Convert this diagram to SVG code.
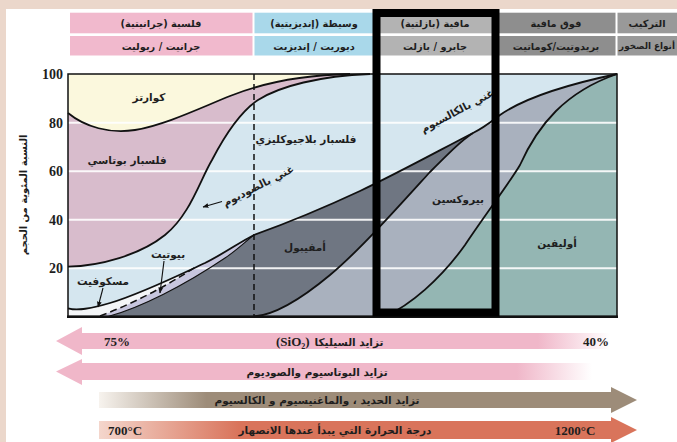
<svg xmlns="http://www.w3.org/2000/svg" width="677" height="442" viewBox="0 0 677 442">
<style>
.ar{font-family:"DejaVu Sans",sans-serif;font-weight:bold;fill:#1e1e1e;}
.hd{font-size:9.8px;}
.lb{font-size:10.5px;}
.num{font-family:"Liberation Serif",serif;font-weight:bold;fill:#1e1e1e;}
.cv{fill:none;stroke:#111;stroke-width:1.8;}
.grid{stroke:#ffffff;stroke-width:2;opacity:0.9;}
.lead{fill:none;stroke:#111;stroke-width:1.1;}
</style>
<defs>
<linearGradient id="gP1" gradientUnits="userSpaceOnUse" x1="56" y1="0" x2="610" y2="0">
<stop offset="0" stop-color="#f0b7c9"/><stop offset="0.87" stop-color="#f0b7c9"/><stop offset="1" stop-color="#ffffff"/>
</linearGradient>
<linearGradient id="gP2" gradientUnits="userSpaceOnUse" x1="56" y1="0" x2="592" y2="0">
<stop offset="0" stop-color="#f0b7c9"/><stop offset="0.86" stop-color="#f0b7c9"/><stop offset="1" stop-color="#ffffff"/>
</linearGradient>
<linearGradient id="gT" gradientUnits="userSpaceOnUse" x1="99" y1="0" x2="637" y2="0">
<stop offset="0" stop-color="#f7f3ee"/><stop offset="0.2" stop-color="#9d8c79"/><stop offset="1" stop-color="#9d8c79"/>
</linearGradient>
<linearGradient id="gS" gradientUnits="userSpaceOnUse" x1="99" y1="0" x2="637" y2="0">
<stop offset="0" stop-color="#f4d6cc"/><stop offset="0.26" stop-color="#d9745b"/><stop offset="1" stop-color="#d9745b"/>
</linearGradient>
<marker id="ah" viewBox="0 0 10 10" refX="9" refY="5" markerWidth="6" markerHeight="6" orient="auto" markerUnits="userSpaceOnUse">
<path d="M0,1 L10,5 L0,9 Z" fill="#111"/>
</marker>
</defs>

<!-- background -->
<rect x="0" y="0" width="677" height="442" fill="#ebd7cb"/>
<rect x="6" y="9" width="671" height="433" fill="#ffffff"/>

<!-- header table -->
<g id="header">
<rect x="70" y="12.7" width="182.5" height="20.6" fill="#f1b9cd"/>
<rect x="70" y="36" width="182.5" height="19.5" fill="#f1b9cd"/>
<rect x="254.5" y="12.7" width="120" height="20.6" fill="#a9d8ea"/>
<rect x="254.5" y="36" width="120" height="19.5" fill="#a9d8ea"/>
<rect x="376" y="12.7" width="120" height="20.6" fill="#b3b3b3"/>
<rect x="376" y="36" width="120" height="19.5" fill="#b3b3b3"/>
<rect x="498" y="12.7" width="117.5" height="20.6" fill="#8e8e8e"/>
<rect x="498" y="36" width="117.5" height="19.5" fill="#8e8e8e"/>
<rect x="617.5" y="12.7" width="59.5" height="20.6" fill="#999999"/>
<rect x="617.5" y="36" width="59.5" height="19.5" fill="#999999"/>
<text class="ar hd" x="161" y="26.5" text-anchor="middle" direction="rtl">فلسية (جرانيتية)</text>
<text class="ar hd" x="161" y="49.5" text-anchor="middle">جرانيت / ريوليت</text>
<text class="ar hd" x="314" y="26.5" text-anchor="middle" direction="rtl">وسيطة (إنديزيتية)</text>
<text class="ar hd" x="314" y="49.5" text-anchor="middle">ديوريت / إنديزيت</text>
<text class="ar hd" x="435" y="26.5" text-anchor="middle" direction="rtl">مافية (بازلتية)</text>
<text class="ar hd" x="435" y="49.5" text-anchor="middle">جابرو / بازلت</text>
<text class="ar hd" x="556" y="26.5" text-anchor="middle">فوق مافية</text>
<text class="ar hd" x="556" y="49.5" text-anchor="middle">بريدوتيت/كوماتيت</text>
<text class="ar hd" x="647" y="26.5" text-anchor="middle">التركيب</text>
<text class="ar" font-size="8.8" x="647" y="49.3" text-anchor="middle">أنواع الصخور</text>
</g>

<!-- chart regions -->
<g id="plagioclase"><rect x="68" y="74" width="549" height="242.5" fill="#d5e6ef"/></g>
<g id="kfeldspar"><path d="M68,74 L68,266.7 C100,266 140,255 165,235 C190,215 200,180 212,160 C225,135 240,112 258,100 C280,86 320,76 370,74 Z" fill="#d8bccc"/></g>
<g id="quartz"><path d="M68,74 L68,113 C85,127 110,134 135,130 C165,125 200,108 230,96 C260,84 300,75 350,74 Z" fill="#fbf8dd"/></g>
<g id="muscovite"><path d="M68,308.3 C78,311 90,309 110,303 C140,294 175,277 205,263 C225,253 240,242 254,235 C290,222 330,205 360,191 C400,172 440,150 473,133 C485,127 492,121 500,115 C520,101 560,86 617,74 L617,316.5 L68,316.5 Z" fill="#f4f6f8"/></g>
<g id="biotite"><path d="M100,316.5 Q150,297 197,266 C220,255 240,242 254,235 L254,316.5 Z" fill="#c7c6de"/></g>
<g id="amphibole"><path d="M108,316.5 C140,308 185,285 225,258 C237,250 246,241 254,235 C290,222 330,205 360,191 C400,172 440,150 473,133 C462,140 450,152 430,172 C400,205 360,250 330,275 C300,300 275,315 254,316.5 Z" fill="#6f7682"/></g>
<g id="pyroxene"><path d="M254,316.5 C275,315 300,300 330,275 C360,250 400,205 430,172 C450,152 462,140 473,133 C485,127 492,121 500,115 C520,101 560,86 617,74 C565,92 538,125 520,165 C510,182 485,215 465,245 C440,280 410,305 385,316.5 Z" fill="#a9b1be"/></g>
<g id="olivine"><path d="M385,316.5 C410,305 440,280 465,245 C485,215 510,182 520,165 C538,125 565,92 617,74 L617,316.5 Z" fill="#94b6b3"/></g>

<!-- grid -->
<g id="grid">
<line class="grid" x1="68" y1="122.7" x2="617" y2="122.7"/>
<line class="grid" x1="68" y1="171.2" x2="617" y2="171.2"/>
<line class="grid" x1="68" y1="219.7" x2="617" y2="219.7"/>
<line class="grid" x1="68" y1="268.2" x2="617" y2="268.2"/>
</g>

<!-- boundary curves -->
<g id="curves">
<path class="cv" d="M68,113 C85,127 110,134 135,130 C165,125 200,108 230,96 C260,84 300,75 350,74"/>
<path class="cv" d="M68,266.7 C100,266 140,255 165,235 C190,215 200,180 212,160 C225,135 240,112 258,100 C280,86 320,76 370,74"/>
<path class="cv" d="M68,308.3 C78,311 90,309 110,303 C140,294 175,277 205,263 C225,253 240,242 254,235 C290,222 330,205 360,191 C400,172 440,150 473,133 C485,127 492,121 500,115 C520,101 560,86 617,74"/>
<path class="cv" style="stroke-width:1.1" d="M108,316.5 C140,308 185,285 225,258 C237,250 246,241 254,235"/>
<path class="cv" d="M254,316.5 C275,315 300,300 330,275 C360,250 400,205 430,172 C450,152 462,140 473,133"/>
<path class="cv" d="M385,316.5 C410,305 440,280 465,245 C485,215 510,182 520,165 C538,125 565,92 617,74"/>
<path class="cv" style="stroke-width:1.5;stroke-dasharray:7 4" d="M100,316 Q150,297 197,266"/>
<line x1="254" y1="74" x2="254" y2="316.5" stroke="#111" stroke-width="1.5" stroke-dasharray="6 4"/>
</g>

<!-- frame -->
<rect x="68" y="74" width="549" height="242.5" fill="none" stroke="#111" stroke-width="1.5"/>
<line x1="67" y1="316.8" x2="618" y2="316.8" stroke="#111" stroke-width="2.5"/>

<!-- axis -->
<g id="axis">
<text class="num" x="63" y="79" font-size="14" text-anchor="end">100</text>
<text class="num" x="63" y="127.7" font-size="14" text-anchor="end">80</text>
<text class="num" x="63" y="176.2" font-size="14" text-anchor="end">60</text>
<text class="num" x="63" y="224.7" font-size="14" text-anchor="end">40</text>
<text class="num" x="63" y="273.2" font-size="14" text-anchor="end">20</text>
<text class="ar" font-size="10" x="0" y="0" text-anchor="middle" transform="translate(27,195) rotate(-90)">النسبة المئوية من الحجم</text>
</g>

<!-- labels -->
<g id="labels">
<text class="ar lb" x="149" y="101" text-anchor="middle">كوارتز</text>
<text class="ar lb" x="127" y="164" text-anchor="middle">فلسبار بوتاسي</text>
<text class="ar lb" x="306" y="143" text-anchor="middle">فلسبار بلاجيوكليزي</text>
<text class="ar lb" x="0" y="0" text-anchor="middle" transform="translate(260,189) rotate(-27)">غني بالصوديوم</text>
<text class="ar lb" x="305" y="251" text-anchor="middle">أمفيبول</text>
<text class="ar lb" x="0" y="0" text-anchor="middle" transform="translate(459,114) rotate(-28)">غني بالكالسيوم</text>
<text class="ar lb" x="458" y="203" text-anchor="middle">بيروكسين</text>
<text class="ar lb" x="557" y="247" text-anchor="middle">أوليفين</text>
<text class="ar lb" x="168" y="258" text-anchor="middle">بيوتيت</text>
<text class="ar lb" x="103" y="285" text-anchor="middle">مسكوفيت</text>
</g>

<!-- leaders -->
<g id="connectors">
<line class="lead" x1="222" y1="201.5" x2="203" y2="207" marker-end="url(#ah)"/>
<line class="lead" x1="164" y1="261" x2="160" y2="293" marker-end="url(#ah)"/>
<line class="lead" x1="103" y1="288" x2="98" y2="307" marker-end="url(#ah)"/>
</g>

<!-- mafic highlight box -->
<rect id="highlight" x="376.5" y="13" width="119" height="299.5" fill="none" stroke="#000" stroke-width="8"/>

<!-- bottom arrows -->
<g id="arrow-silica">
<path d="M56,341 L82,327 L82,333 L610,333 L610,349 L82,349 L82,355 Z" fill="url(#gP1)"/>
<text class="num" x="117" y="346" font-size="13" text-anchor="middle">75%</text>
<text class="num" x="596" y="346" font-size="13" text-anchor="middle">40%</text>
<text class="num" x="276" y="346" font-size="13">(SiO<tspan font-size="8" dy="3">2</tspan><tspan dy="-3">)</tspan></text>
<text class="ar lb" x="349" y="345.5" text-anchor="middle">تزايد السيليكا</text>
</g>
<g id="arrow-kna">
<path d="M56,371.5 L82,359 L82,363 L592,363 L592,380 L82,380 L82,385 Z" fill="url(#gP2)"/>
<text class="ar lb" x="317" y="375.5" text-anchor="middle">تزايد البوتاسيوم والصوديوم</text>
</g>
<g id="arrow-femg">
<path d="M99,392 L611,392 L611,387 L637,400 L611,413 L611,408 L99,408 Z" fill="url(#gT)"/>
<text class="ar lb" x="317" y="404" text-anchor="middle">تزايد الحديد ، والماغنيسيوم و الكالسيوم</text>
</g>
<g id="arrow-temp">
<path d="M99,421 L611,421 L611,417 L637,430 L611,443 L611,439 L99,439 Z" fill="url(#gS)"/>
<text class="num" x="125" y="435" font-size="13" text-anchor="middle">700°C</text>
<text class="num" x="575" y="435" font-size="13" text-anchor="middle">1200°C</text>
<text class="ar lb" x="335" y="434" text-anchor="middle">درجة الحرارة التي يبدأ عندها الانصهار</text>
</g>
</svg>
